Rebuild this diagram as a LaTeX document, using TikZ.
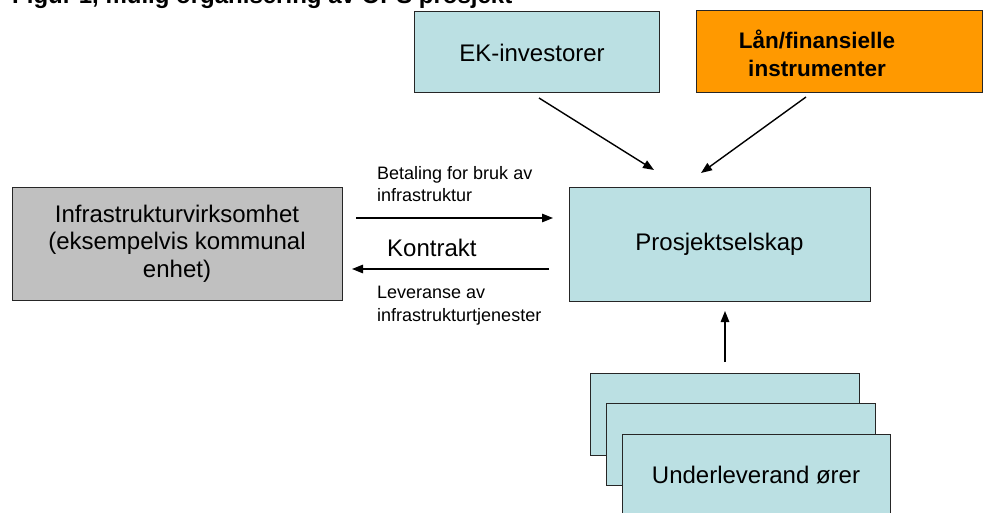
\documentclass[tikz,border=0pt]{standalone}
\usepackage{fontspec}
\setmainfont{Liberation Sans}
\usetikzlibrary{arrows.meta}
\definecolor{boxblue}{RGB}{187,224,227}
\definecolor{boxorange}{RGB}{255,153,0}
\definecolor{boxgray}{RGB}{192,192,192}
\begin{document}
\begin{tikzpicture}[x=1pt,y=-1pt,
  box/.style={draw=black!85,line width=1pt,inner sep=0pt,align=center,
    font=\fontsize{24}{27.5}\selectfont},
  arr/.style={line width=1.4pt,-{Triangle[length=11pt,width=8.5pt]}},
  small/.style={inner sep=0pt,align=left,anchor=base west,
    font=\fontsize{18}{22.5}\selectfont}]
\useasboundingbox (0,0) rectangle (984,513);
\clip (0,0) rectangle (984,513);
\node[inner sep=0pt,anchor=base west,font=\fontsize{24}{28}\selectfont\bfseries] (title) at (12,4) {Figur 1, mulig organisering av OPS prosjekt};
\node[box,fill=boxblue,minimum width=245pt,minimum height=81pt] (ek) at (536.5,52.5) {};
\node[inner sep=0pt,font=\fontsize{24}{27.5}\selectfont] (ektext) at (532,52.5) {EK-investorer};
\node[box,fill=boxorange,minimum width=286pt,minimum height=82pt] (laan) at (839,52) {};
\node[inner sep=0pt,align=center,font=\fontsize{22.5}{28}\selectfont\bfseries] (laantext) at (817,53) {Lån/finansielle\\instrumenter};
\node[box,fill=boxgray,minimum width=330pt,minimum height=113pt] (infra) at (177,243.5) {Infrastrukturvirksomhet\\(eksempelvis kommunal\\enhet)};
\node[box,fill=boxblue,minimum width=301pt,minimum height=114pt] (ps) at (719.5,244) {Prosjektselskap};
\node[box,fill=boxblue,minimum width=269pt,minimum height=82pt] (u1) at (724.5,414) {};
\node[box,fill=boxblue,minimum width=269pt,minimum height=82pt] (u2) at (740.5,444) {};
\node[box,fill=boxblue,minimum width=268pt,minimum height=82pt] (u3) at (756,475) {Underleverand ører};
% connector end points
\coordinate (ekA) at (539,98);
\coordinate (ekB) at (654,170);
\coordinate (laA) at (806,97);
\coordinate (laB) at (701,173);
\coordinate (payA) at (356,218);
\coordinate (payB) at (553,218);
\coordinate (delA) at (549,269);
\coordinate (delB) at (352,269);
\coordinate (upA) at (725,362);
\coordinate (upB) at (725,311);
\draw[arr] (ekA) -- (ekB);
\draw[arr] (laA) -- (laB);
\draw[arr] (payA) -- (payB);
\draw[arr] (delA) -- (delB);
\draw[arr] (upA) -- (upB);
\node[small] (pay) at (377,201.5) {Betaling for bruk av\\infrastruktur};
\node[inner sep=0pt,anchor=base west,font=\fontsize{24}{28}\selectfont] (kontrakt) at (387,256) {Kontrakt};
\node[small] (del) at (377,321) {Leveranse av\\infrastrukturtjenester};
\end{tikzpicture}
\end{document}
